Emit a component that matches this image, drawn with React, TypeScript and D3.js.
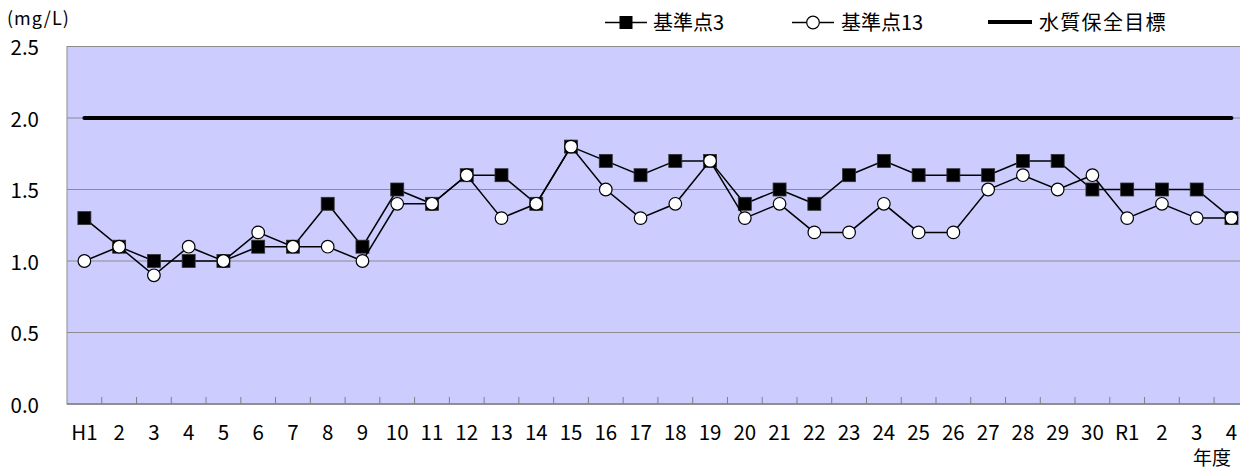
import React, { useEffect } from 'react'
import * as d3 from 'd3'

// 年度ラベル
const years = ['H1', '2', '3', '4', '5', '6', '7', '8', '9', '10', '11', '12', '13', '14', '15', '16', '17', '18', '19', '20',
  '21', '22', '23', '24', '25', '26', '27', '28', '29', '30', 'R1', '2', '3', '4']
// 基準点3
const point3 = [1.3, 1.1, 1.0, 1.0, 1.0, 1.1, 1.1, 1.4, 1.1, 1.5, 1.4, 1.6, 1.6, 1.4, 1.8, 1.7, 1.6, 1.7, 1.7, 1.4,
  1.5, 1.4, 1.6, 1.7, 1.6, 1.6, 1.6, 1.7, 1.7, 1.5, 1.5, 1.5, 1.5, 1.3]
// 基準点13
const point13 = [1.0, 1.1, 0.9, 1.1, 1.0, 1.2, 1.1, 1.1, 1.0, 1.4, 1.4, 1.6, 1.3, 1.4, 1.8, 1.5, 1.3, 1.4, 1.7, 1.3,
  1.4, 1.2, 1.2, 1.4, 1.2, 1.2, 1.5, 1.6, 1.5, 1.6, 1.3, 1.4, 1.3, 1.3]
// 水質保全目標
const target = 2.0
const yTicks = [0, 0.5, 1.0, 1.5, 2.0, 2.5]

const FONT = '"Noto Sans CJK JP", "Noto Sans", sans-serif'

export default function App() {
  const width = 1240
  const height = 469
  const margin = { top: 46.5, left: 67, bottom: 404 }
  const bandW = 34.76

  useEffect(() => {
    document.body.style.margin = '0'
  }, [])

  // keys need to be unique, years repeat after R1
  const keys = years.map((d, i) => i)
  const x = d3.scaleBand<number>()
    .domain(keys)
    .range([margin.left, margin.left + bandW * years.length])
    .padding(0)
  const cx = (i: number) => (x(i) as number) + x.bandwidth() / 2

  const y = d3.scaleLinear()
    .domain([0, 2.5])
    .range([margin.bottom, margin.top])

  const line = d3.line<number>()
    .x((d, i) => cx(i))
    .y(d => y(d))

  const plotRight = margin.left + bandW * years.length

  return (
    <svg width={width} height={height} style={{ display: 'block', position: 'absolute', left: 0, top: 0, fontFamily: FONT }}>
      <rect x={margin.left} y={y(2.5)} width={plotRight - margin.left} height={y(0) - y(2.5)}
        fill="#ccccff" stroke="#8c8c8c" strokeWidth={1} />
      {yTicks.filter(t => t > 0 && t < 2.5).map(t => (
        <line key={t} x1={margin.left} x2={plotRight} y1={y(t)} y2={y(t)} stroke="#8c8c8c" strokeWidth={1} />
      ))}
      <line x1={margin.left} x2={plotRight} y1={y(0)} y2={y(0)} stroke="#808080" strokeWidth={1.5} />
      {keys.slice(1).map(i => (
        <line key={i} x1={x(i)} x2={x(i)} y1={y(0)} y2={y(0) - 7} stroke="#808080" strokeWidth={1} />
      ))}

      {yTicks.map(t => (
        <text key={t} x={39} y={y(t) + 8.5} textAnchor="end" fontSize={20.5} fill="#000">{t.toFixed(1)}</text>
      ))}
      {years.map((d, i) => (
        <text key={i} x={cx(i)} y={440} textAnchor="middle" fontSize={20.5} fill="#000">{d}</text>
      ))}
      <text x={1212} y={465} textAnchor="middle" fontSize={19} fill="#000">年度</text>
      <text x={7} y={25} fontSize={18} letterSpacing={1} fill="#000">(mg/L)</text>

      {/* 水質保全目標 */}
      <line x1={cx(0)} x2={cx(years.length - 1)} y1={y(target)} y2={y(target)}
        stroke="#000" strokeWidth={4} strokeLinecap="round" />

      {/* 基準点3 */}
      <path d={line(point3) || ''} fill="none" stroke="#000" strokeWidth={1.5} />
      {point3.map((v, i) => (
        <rect key={i} x={cx(i) - 6.5} y={y(v) - 6.5} width={13} height={13} fill="#000" stroke="#333" strokeWidth={0.8} />
      ))}

      {/* 基準点13 */}
      <path d={line(point13) || ''} fill="none" stroke="#000" strokeWidth={1.5} />
      {point13.map((v, i) => (
        <circle key={i} cx={cx(i)} cy={y(v)} r={6.3} fill="#fff" stroke="#000" strokeWidth={1.2} />
      ))}

      {/* legend */}
      <g>
        <line x1={605} x2={647} y1={22.5} y2={22.5} stroke="#000" strokeWidth={1.5} />
        <rect x={619.5} y={16} width={13} height={13} fill="#000" />
        <text x={653} y={30} fontSize={20} fill="#000">基準点3</text>

        <line x1={792} x2={834} y1={22.5} y2={22.5} stroke="#000" strokeWidth={1.5} />
        <circle cx={813} cy={22.5} r={6.3} fill="#fff" stroke="#000" strokeWidth={1.2} />
        <text x={841} y={30} fontSize={20} fill="#000">基準点13</text>

        <line x1={988} x2={1032} y1={22} y2={22} stroke="#000" strokeWidth={4} />
        <text x={1039} y={30} fontSize={20} letterSpacing={1.3} fill="#000">水質保全目標</text>
      </g>
    </svg>
  )
}
